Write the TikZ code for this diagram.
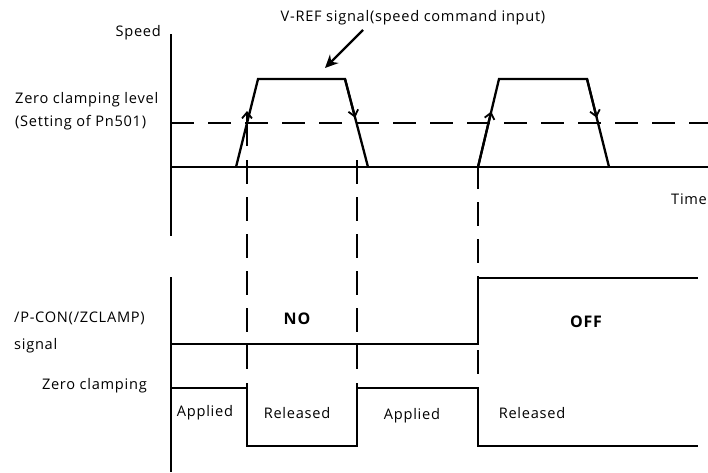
\documentclass[tikz,border=0pt]{standalone}
\usepackage{fontspec}
\setmainfont{Open Sans}[LetterSpace=5]
\usetikzlibrary{arrows.meta,calc}
\begin{document}
\begin{tikzpicture}[x=1pt,y=-1pt,
  wave/.style={line width=2.3pt, line join=miter},
  lvl/.style={line width=2.3pt, dash pattern=on 23pt off 14pt},
  vdash/.style={line width=2.3pt, dash pattern=on 24pt off 13pt},
  edgearrow/.style={line width=2.3pt, -{Straight Barb[length=6pt,width=10pt,line width=1.8pt]}},
  lbl/.style={font=\fontsize{14.6}{17}\selectfont, inner sep=0pt},
  bold/.style={font=\fontsize{16}{18}\selectfont\bfseries, inner sep=0pt}]
\useasboundingbox (0,0) rectangle (708,472);
% speed axes
\draw[wave] (171,34) -- (171,236);
\draw[wave] (171,167) -- (708,167);
\draw[lvl] (171,123) -- (708,123);
% trapezoids
\coordinate (a1) at (236,167); \coordinate (b1) at (258,79);
\coordinate (c1) at (345,79);  \coordinate (d1) at (368,167);
\coordinate (a2) at (478,167); \coordinate (b2) at (499,79);
\coordinate (c2) at (587,79);  \coordinate (d2) at (609,167);
\draw[wave] (a1) -- (b1) -- (c1) -- (d1);
\draw[wave] (a2) -- (b2) -- (c2) -- (d2);
\coordinate (u1s) at (247,146); \coordinate (u1t) at (247,111);
\draw[edgearrow] (u1s) -- (u1t);
\draw[edgearrow] (c1) -- ($(c1)!0.44!(d1)$);
\draw[edgearrow] (a2) -- ($(a2)!0.63!(b2)$);
\draw[edgearrow] (c2) -- ($(c2)!0.44!(d2)$);
% vertical dashed lines
\draw[vdash] (247,160) -- (247,370);
\draw[vdash] (357,160) -- (357,370);
\draw[vdash] (478,165) -- (478,375);
% lower axis
\draw[wave] (171,277) -- (171,472);
\draw[wave] (171,344) -- (478,344) -- (478,278) -- (698,278);
\draw[wave] (171,388) -- (247,388);
\draw[wave] (247,383) -- (247,446) -- (357,446) -- (357,383);
\draw[wave] (357,388) -- (478,388) -- (478,446) -- (698,446);
% labels
\node[lbl, anchor=east] (speed) at (161,33) {Speed};
\node[lbl] (vref) at (413,18) {V-REF signal(speed command input)};
\coordinate (vtip) at (325,68);
\draw[line width=2.3pt, -{Stealth[length=13pt,width=12pt]}] (363,30) -- (vtip);
\node[lbl, anchor=west] (zcl) at (15,100) {Zero clamping level};
\node[lbl, anchor=west] (pn) at (15,123) {(Setting of Pn501)};
\node[lbl, anchor=west] (time) at (671,199) {Time};
\node[lbl, anchor=west] (pcon) at (14,318) {/P-CON(/ZCLAMP)};
\node[lbl, anchor=west] (sig) at (14,346) {signal};
\node[lbl, anchor=east] (zc) at (147,386) {Zero clamping};
\node[lbl] (ap1) at (205,413) {Applied};
\node[lbl] (re1) at (297,413) {Released};
\node[bold] (no) at (297,319) {NO};
\node[bold] (off) at (586,322) {OFF};
\node[lbl] (ap2) at (412,416) {Applied};
\node[lbl] (re2) at (532,413) {Released};
\end{tikzpicture}
\end{document}
